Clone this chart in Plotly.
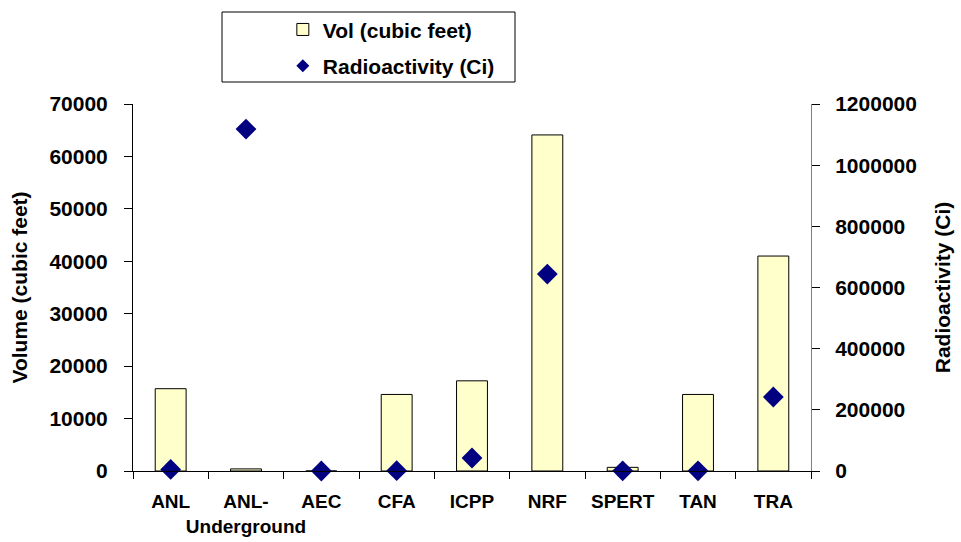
import plotly.graph_objects as go

categories = ["ANL", "ANL-<br>Underground", "AEC", "CFA", "ICPP", "NRF", "SPERT", "TAN", "TRA"]
volume_cf = [15700, 400, 0, 14600, 17200, 64100, 700, 14600, 41000]
radioactivity_ci = [5000, 1118000, 0, 1000, 42500, 644000, 500, 500, 242000]

FONT = "Liberation Sans, Arial, sans-serif"
BAR_COLOR = "#FFFFCC"
DIAMOND_COLOR = "#000080"

fig = go.Figure()
fig.add_trace(go.Bar(
    x=categories, y=volume_cf, name="Vol (cubic feet)",
    marker=dict(color=BAR_COLOR, line=dict(color="black", width=1)),
    width=0.41, legendgroup="a", yaxis="y",
))
fig.add_trace(go.Scatter(
    x=categories, y=radioactivity_ci, name="Radioactivity (Ci)",
    mode="markers", marker=dict(symbol="diamond", size=16, color=DIAMOND_COLOR),
    legendgroup="b", yaxis="y2", cliponaxis=False, showlegend=False,
))
# legend entry with the smaller legend diamond
fig.add_trace(go.Scatter(
    x=[None], y=[None], name="Radioactivity (Ci)",
    mode="markers", marker=dict(symbol="diamond", size=10, color=DIAMOND_COLOR),
    legendgroup="b", yaxis="y2", showlegend=True,
))

tickfont = dict(family=FONT, size=21, color="black", weight="bold")
titlefont = dict(family=FONT, size=21, color="black", weight="bold")
fig.update_layout(
    width=961, height=542,
    margin=dict(l=133, r=150, t=104, b=71, autoexpand=False),
    paper_bgcolor="white", plot_bgcolor="white",
    font=dict(family=FONT, color="black"),
    showlegend=True,
    legend=dict(
        x=0.221, y=1.258, xanchor="left", yanchor="top",
        font=dict(family=FONT, size=21, color="black", weight="bold"),
        traceorder="grouped", tracegroupgap=6,
        bgcolor="rgba(0,0,0,0)", borderwidth=0,
    ),
    xaxis=dict(
        type="category", tickson="boundaries", ticks="outside", ticklen=7,
        tickcolor="black", showline=True, linecolor="black", linewidth=1,
        tickfont=dict(family=FONT, size=19, color="black", weight="bold"),
        tickangle=0, showgrid=False, range=[-0.5, 8.5], automargin=False,
        ticklabelstandoff=13,
    ),
    yaxis=dict(
        range=[0, 70000], dtick=10000, tickformat="d",
        ticks="outside", ticklen=8, tickcolor="black",
        showline=True, linecolor="black", linewidth=1, showgrid=False,
        zeroline=False, tickfont=tickfont, automargin=False,
        ticklabelstandoff=12,
        title=dict(text="Volume (cubic feet)", font=titlefont, standoff=16),
    ),
    yaxis2=dict(
        overlaying="y", side="right",
        range=[0, 1200000], dtick=200000, tickformat="d",
        ticks="outside", ticklen=8, tickcolor="black",
        showline=True, linecolor="#808080", linewidth=1, showgrid=False,
        zeroline=False, tickfont=tickfont, automargin=False,
        ticklabelstandoff=11,
        title=dict(text="Radioactivity (Ci)", font=titlefont, standoff=19),
    ),
    shapes=[dict(
        type="rect", xref="paper", yref="paper",
        x0=(222 - 133) / 678, x1=(515 - 133) / 678,
        y0=(471 - 82) / 367, y1=(471 - 12) / 367,
        line=dict(color="black", width=1), fillcolor="rgba(0,0,0,0)",
    )],
)

fig.write_html("out.html")
